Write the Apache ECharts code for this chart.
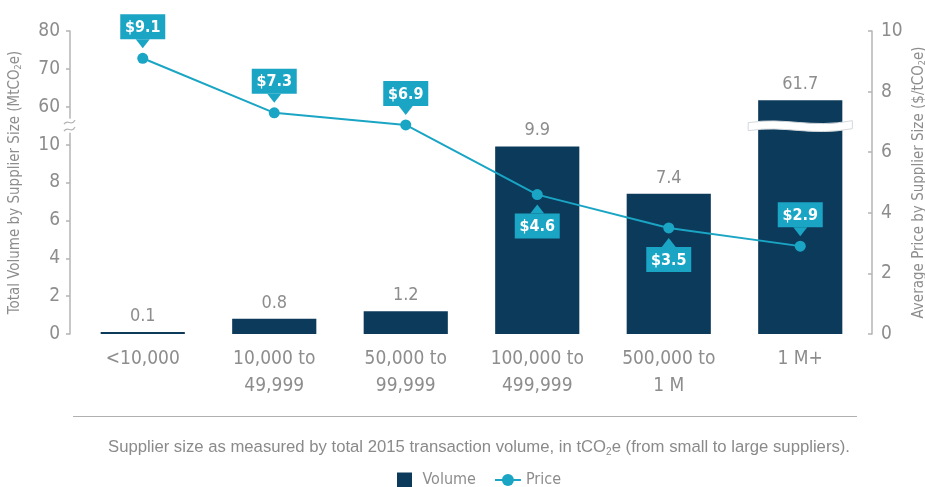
<!DOCTYPE html>
<html>
<head>
<meta charset="utf-8">
<script src="https://cdn.jsdelivr.net/npm/echarts@6/dist/echarts.min.js"></script>
<style>html,body{margin:0;padding:0;background:#fff}#c{width:925px;height:487px}</style>
</head>
<body>
<div id="c"></div>
<script>
var categories = ['<10,000', '10,000 to\n49,999', '50,000 to\n99,999', '100,000 to\n499,999', '500,000 to\n1 M', '1 M+'];
var volume = [0.1, 0.8, 1.2, 9.9, 7.4, 61.7];
var price = [9.1, 7.3, 6.9, 4.6, 3.5, 2.9];
var priceLabelAbove = [true, true, true, false, false, true];
var leftTickLabels = [0, 2, 4, 6, 8, 10, 60, 70, 80];
var rightTicks = [0, 2, 4, 6, 8, 10];

var COND = "'Liberation Sans Narrow','DejaVu Sans Condensed','Roboto Condensed','Noto Sans',sans-serif";
var GRAY = '#8d8d8d';
var NAVY = '#0c3a5b';
var TEAL = '#1aa5c4';

// Broken axis: 0..10 linear, then 60..80 compressed (10 units -> 2 axis units), break between 10 and 12
function toAxis(v) { return v <= 10 ? v : 12 + (v - 60) / 5; }
function axisLabel(a) {
  var idx = Math.round(a / 2);
  return leftTickLabels[idx] != null ? String(leftTickLabels[idx]) : '';
}

var chart = echarts.init(document.getElementById('c'), null, {renderer: 'canvas'});

var option = {
  animation: false,
  textStyle: {fontFamily: COND},
  title: {
    text: 'Supplier size as measured by total 2015 transaction volume, in tCO{sub|2}e (from small to large suppliers).',
    left: 103,
    top: 433,
    textStyle: {
      fontFamily: "'Liberation Sans', Arial, sans-serif",
      fontSize: 16.7, fontWeight: 'normal', color: '#8a8a8a',
      rich: {sub: {fontSize: 10, color: '#8a8a8a', fontFamily: "'Liberation Sans', Arial, sans-serif", padding: [9, 0, 0, 0]}}
    }
  },
  legend: {
    top: 467,
    left: 392,
    itemWidth: 26,
    itemHeight: 15,
    itemGap: 18,
    textStyle: {fontFamily: COND, fontSize: 16, color: GRAY},
    data: [
      {name: 'Volume', icon: 'path://M0,0L15,0L15,15L0,15Z'},
      {name: 'Price'}
    ]
  },
  grid: {left: 77, right: 59, top: 31, bottom: 153, outerBoundsMode: 'none', containLabel: false},
  xAxis: {
    type: 'category',
    data: categories,
    axisLine: {show: false},
    axisTick: {show: false},
    axisLabel: {fontFamily: COND, fontSize: 19, lineHeight: 27, color: GRAY, margin: 12, interval: 0}
  },
  yAxis: [
    {
      type: 'value', min: 0, max: 16, interval: 2, offset: 7,
      name: 'Total Volume by Supplier Size (MtCO{sub|2}e)',
      nameLocation: 'middle', nameGap: 47, nameMoveOverlap: false,
      nameTextStyle: {fontFamily: COND, fontSize: 15, color: GRAY,
        rich: {sub: {fontSize: 9, color: GRAY, fontFamily: COND, verticalAlign: 'bottom'}}},
      axisLine: {show: true, lineStyle: {color: '#b4b4b4', width: 1.5}},
      axisTick: {show: true, length: 4, lineStyle: {color: '#b4b4b4', width: 1.5}},
      splitLine: {show: false},
      axisLabel: {fontFamily: COND, fontSize: 19, color: GRAY, margin: 10, formatter: axisLabel}
    },
    {
      type: 'value', min: 0, max: 10, interval: 2, offset: 6, position: 'right',
      name: 'Average Price by Supplier Size ($/tCO{sub|2}e)',
      nameLocation: 'middle', nameGap: 40, nameRotate: 90, nameMoveOverlap: false,
      nameTextStyle: {fontFamily: COND, fontSize: 15, color: GRAY,
        rich: {sub: {fontSize: 9, color: GRAY, fontFamily: COND, verticalAlign: 'bottom'}}},
      axisLine: {show: true, lineStyle: {color: '#b4b4b4', width: 1.5}},
      axisTick: {show: true, length: 4, inside: true, lineStyle: {color: '#b4b4b4', width: 1.5}},
      splitLine: {show: false},
      axisLabel: {fontFamily: COND, fontSize: 19, color: GRAY, margin: 9,
        formatter: function (v) { return rightTicks.indexOf(v) >= 0 ? String(v) : ''; }}
    }
  ],
  series: [
    {
      name: 'Volume',
      type: 'bar',
      yAxisIndex: 0,
      barWidth: '64%',
      itemStyle: {color: NAVY},
      data: volume.map(toAxis),
      label: {
        show: true, position: 'top', distance: 7,
        fontFamily: COND, fontSize: 18, color: GRAY,
        formatter: function (p) { return volume[p.dataIndex].toFixed(1); }
      },
      z: 2
    },
    {
      name: 'Volume-break',
      type: 'custom',
      yAxisIndex: 0,
      silent: true,
      z: 5,
      clip: false,
      data: [[5, 11, 0], [0, 11, 1]],
      renderItem: function (params, api) {
        var kind = api.value(2);
        var p = api.coord([api.value(0), api.value(1)]);
        var yc = p[1];
        if (kind === 0) {
          var half = api.size([1, 0])[0] * 0.64 / 2 + 10;
          var x0 = p[0] - half, x1 = p[0] + half, w = x1 - x0;
          var d = 'M' + x0 + ',' + (yc - 3) +
            'C' + (x0 + w * 0.35) + ',' + (yc - 9) + ' ' + (x0 + w * 0.6) + ',' + (yc + 3) + ' ' + x1 + ',' + (yc - 5) +
            'L' + x1 + ',' + (yc + 3) +
            'C' + (x0 + w * 0.6) + ',' + (yc + 11) + ' ' + (x0 + w * 0.35) + ',' + (yc - 1) + ' ' + x0 + ',' + (yc + 5) + 'Z';
          return {type: 'path', shape: {pathData: d}, style: {fill: '#ffffff', stroke: '#d3d8dc', lineWidth: 1}};
        }
        var ax = params.coordSys.x - 7;
        var children = [{type: 'rect', shape: {x: ax - 3, y: yc - 7, width: 6, height: 14}, style: {fill: '#ffffff'}}];
        [-3.5, 3.5].forEach(function (dd) {
          var yy = yc + dd;
          children.push({
            type: 'path',
            shape: {pathData: 'M' + (ax - 6) + ',' + (yy + 2) + 'C' + (ax - 2) + ',' + (yy - 4) + ' ' + (ax + 1) + ',' + (yy + 5) + ' ' + (ax + 5) + ',' + (yy - 2)},
            style: {fill: null, stroke: '#b4b4b4', lineWidth: 1.3}
          });
        });
        return {type: 'group', children: children};
      }
    },
    {
      name: 'Price',
      type: 'line',
      yAxisIndex: 1,
      data: price,
      symbol: 'circle',
      symbolSize: 11,
      itemStyle: {color: TEAL},
      lineStyle: {color: TEAL, width: 2},
      z: 6
    },
    {
      name: 'Price-callouts',
      type: 'custom',
      yAxisIndex: 1,
      silent: true,
      clip: false,
      z: 7,
      data: price.map(function (v, i) { return [i, v, priceLabelAbove[i] ? 1 : -1]; }),
      renderItem: function (params, api) {
        var v = api.value(1);
        var p = api.coord([api.value(0), v]);
        var dir = api.value(2);
        var w = 45, h = 25, gap = 19, tip = 10;
        var boxY = dir > 0 ? p[1] - gap - h : p[1] + gap;
        var baseY = dir > 0 ? p[1] - gap : p[1] + gap;
        var tipY = dir > 0 ? p[1] - tip : p[1] + tip;
        return {
          type: 'group',
          children: [
            {type: 'polygon', shape: {points: [[p[0] - 7, baseY], [p[0] + 7, baseY], [p[0], tipY]]}, style: {fill: TEAL}},
            {type: 'rect', shape: {x: p[0] - w / 2, y: boxY, width: w, height: h}, style: {fill: TEAL}},
            {type: 'text', x: p[0], y: boxY + h / 2 + 1, style: {text: '$' + v.toFixed(1), fill: '#ffffff', font: 'bold 16px ' + COND, align: 'center', verticalAlign: 'middle'}}
          ]
        };
      }
    }
  ],
  graphic: [
    {type: 'line', shape: {x1: 73, y1: 416.5, x2: 857, y2: 416.5}, style: {stroke: '#b0b0b0', lineWidth: 1.2}}
  ]
};
chart.setOption(option);
</script>
</body>
</html>
